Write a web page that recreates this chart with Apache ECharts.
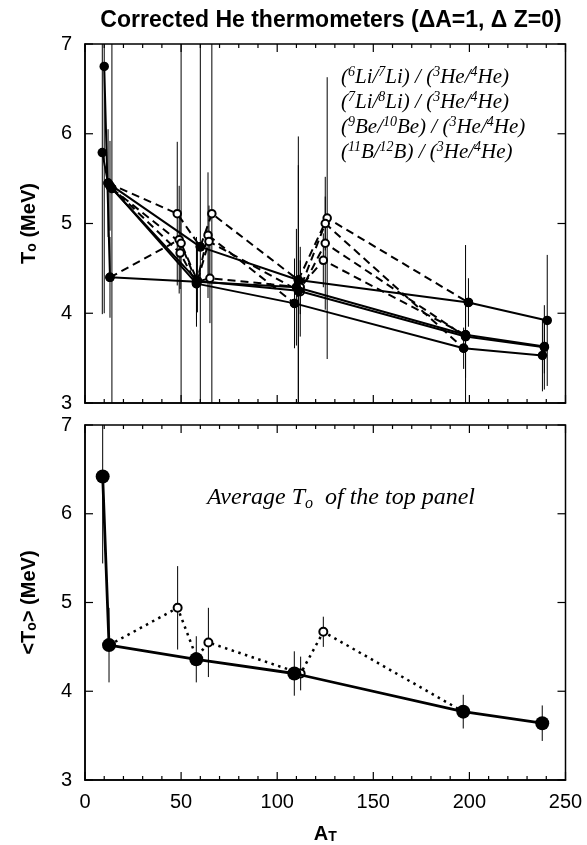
<!DOCTYPE html>
<html>
<head>
<meta charset="utf-8">
<script src="https://cdn.jsdelivr.net/npm/echarts@6/dist/echarts.min.js"></script>
<style>
  html, body { margin: 0; padding: 0; background: #fff; }
  #chart { width: 587px; height: 845px; }
</style>
</head>
<body>
<div id="chart"></div>
<script>
// [A_T, T0 (MeV), error]
// top panel: solid line = filled targets, dashed line = same thermometer incl. open targets
const th1Solid = [[10, 6.75, 2.75], [13, 4.40, 0.45], [58, 4.35, 0.5], [110, 4.29, 0.65], [198, 3.76, 1.0], [239, 3.63, 0.3]]
const th1Dash = [[13, 4.40, 0], [49, 4.82, 0.6], [58, 4.35, 0], [65, 4.39, 0.5], [112, 4.29, 0.3], [124, 4.59, 0.3], [198, 3.76, 0]]
const th2Solid = [[9, 5.79, 1.8], [12, 5.45, 0.6], [60, 4.74, 3.0], [111, 4.37, 1.6], [199.5, 4.12, 0.27], [240.5, 3.92, 0.73]]
const th2Dash = [[12, 5.45, 0], [48, 5.11, 0.8], [60, 4.74, 0], [66, 5.11, 2.5], [111, 4.37, 0], [126, 5.06, 1.57], [199.5, 4.12, 0]]
const th3Solid = [[13, 5.42, 0.5], [58, 4.33, 0.4], [109, 4.11, 0.5], [197, 3.61, 0.23], [238, 3.53, 0.4]]
const th3Dash = [[13, 5.42, 0], [49.5, 4.67, 0.4], [58, 4.33, 0], [64, 4.87, 0.7], [109, 4.11, 0], [125, 5.00, 0.3], [197, 3.61, 0]]
const th4Solid = [[14, 5.39, 2.6], [58.5, 4.36, 0.35], [111, 4.25, 1.4], [198, 3.74, 0.46], [239, 3.62, 0.47]]
const th4Dash = [[14, 5.39, 0], [50, 4.78, 3.0], [58.5, 4.36, 0], [64.5, 4.80, 0.4], [112, 4.24, 0.5], [125, 4.78, 0.74], [198, 3.74, 0]]

// bottom panel: averages
const avgSolid = [[9.2, 6.42, 0.98], [12.5, 4.52, 0.42], [57.9, 4.36, 0.26], [108.9, 4.20, 0.25], [196.8, 3.77, 0.19], [237.9, 3.64, 0.2]]
const avgDotted = [[12.5, 4.52, 0], [48.2, 4.94, 0.47], [58, 4.38, 0], [64.2, 4.55, 0.39], [112.2, 4.20, 0.19], [124, 4.67, 0.17], [196.8, 3.77, 0]]

const legendLines = [
  '({s|6}Li/{s|7}Li) / ({s|3}He/{s|4}He)',
  '({s|7}Li/{s|8}Li) / ({s|3}He/{s|4}He)',
  '({s|9}Be/{s|10}Be) / ({s|3}He/{s|4}He)',
  '({s|11}B/{s|12}B) / ({s|3}He/{s|4}He)'
]
const xRange = [0, 250]
const yRange = [3, 7]
const xTickVals = [0, 10, 20, 30, 40, 50, 60, 70, 80, 90, 100, 110, 120, 130, 140, 150, 160, 170, 180, 190, 200, 210, 220, 230, 240, 250]
const yTickVals = [3, 4, 5, 6, 7]

const SANS = 'Liberation Sans'
const SERIF = 'Liberation Serif'

const chartInstance = echarts.init(document.getElementById('chart'), null, { renderer: 'canvas' })

const nameRich = {
  a: { fontSize: 20, fontWeight: 'bold', fontFamily: SANS, color: '#000' },
  b: { fontSize: 14, fontWeight: 'bold', fontFamily: SANS, color: '#000', verticalAlign: 'bottom', lineHeight: 16 }
}

function xAxisDef (grid, showLabel) {
  return {
    type: 'value',
    gridIndex: grid,
    min: xRange[0],
    max: xRange[1],
    interval: 50,
    axisLine: { show: true, onZero: false, lineStyle: { color: '#000', width: 1.5 } },
    axisTick: { show: false },
    splitLine: { show: false },
    axisLabel: { show: showLabel, color: '#000', fontSize: 20, fontFamily: SANS, margin: 12 }
  }
}

function yAxisDef (grid, name) {
  return {
    type: 'value',
    gridIndex: grid,
    min: yRange[0],
    max: yRange[1],
    interval: 1,
    axisLine: { show: true, onZero: false, lineStyle: { color: '#000', width: 1.5 } },
    axisTick: { show: false },
    splitLine: { show: false },
    axisLabel: { color: '#000', fontSize: 20, fontFamily: SANS, margin: 13 },
    name: name,
    nameLocation: 'middle',
    nameRotate: 90,
    nameGap: 46,
    nameTextStyle: { color: '#000', rich: nameRich }
  }
}

// vertical error bars, clipped to the panel
function errorBars (data, idx) {
  return {
    type: 'custom',
    xAxisIndex: idx,
    yAxisIndex: idx,
    silent: true,
    z: 1,
    data: data.filter(d => d[2] > 0),
    renderItem: (params, api) => {
      const x = api.value(0)
      const y = api.value(1)
      const e = api.value(2)
      const top = api.coord([x, y + e])
      const bot = api.coord([x, y - e])
      const cs = params.coordSys
      return {
        type: 'line',
        shape: { x1: top[0], y1: Math.max(top[1], cs.y), x2: top[0], y2: Math.min(bot[1], cs.y + cs.height) },
        style: { stroke: '#000', lineWidth: 1 }
      }
    }
  }
}

function lineSeries (data, idx, opt) {
  const filled = opt.symbol === 'circle'
  return {
    type: 'line',
    xAxisIndex: idx,
    yAxisIndex: idx,
    data: data.map(d => [d[0], d[1]]),
    symbol: opt.symbol,
    symbolSize: opt.size,
    showAllSymbol: true,
    z: opt.z,
    itemStyle: { color: '#000', borderColor: '#000', borderWidth: filled ? 0 : 1.3 },
    lineStyle: { color: '#000', width: opt.width, type: opt.dash },
    emphasis: { disabled: true }
  }
}

const topSolid = [th1Solid, th2Solid, th3Solid, th4Solid]
const topDash = [th1Dash, th2Dash, th3Dash, th4Dash]

const series = []
topSolid.concat(topDash).forEach(d => series.push(errorBars(d, 0)))
series.push(errorBars(avgSolid, 1))
series.push(errorBars(avgDotted, 1))
topDash.forEach(d => series.push(lineSeries(d, 0, { symbol: 'emptyCircle', size: 7.5, width: 2, dash: [8, 5], z: 2 })))
topSolid.forEach(d => series.push(lineSeries(d, 0, { symbol: 'circle', size: 9.5, width: 2, dash: 'solid', z: 3 })))
series.push(lineSeries(avgDotted, 1, { symbol: 'emptyCircle', size: 8, width: 2.5, dash: [2.5, 4.5], z: 2 }))
series.push(lineSeries(avgSolid, 1, { symbol: 'circle', size: 14, width: 2.8, dash: 'solid', z: 3 }))

const baseGraphic = [
  {
    type: 'text',
    x: 331,
    y: 21,
    style: {
      text: 'Corrected He thermometers (\u0394A=1, \u0394 Z=0)',
      fontFamily: SANS,
      fontSize: 23,
      fontWeight: 'bold',
      fill: '#000',
      align: 'center',
      verticalAlign: 'middle'
    }
  },
  {
    type: 'text',
    x: 341,
    y: 65,
    style: {
      text: legendLines.join('\n'),
      fontFamily: SERIF,
      fontStyle: 'italic',
      fontSize: 21,
      lineHeight: 25,
      fill: '#000',
      rich: {
        s: { fontFamily: SERIF, fontStyle: 'italic', fontSize: 14, verticalAlign: 'top', lineHeight: 16, fill: '#000' }
      }
    }
  },
  {
    type: 'text',
    x: 207,
    y: 484,
    style: {
      text: 'Average T{sub|o}  of the top panel',
      fontFamily: SERIF,
      fontStyle: 'italic',
      fontSize: 24,
      lineHeight: 28,
      fill: '#000',
      rich: {
        sub: { fontFamily: SERIF, fontStyle: 'italic', fontSize: 16, verticalAlign: 'bottom', lineHeight: 18, fill: '#000' }
      }
    }
  }
]

const option = {
  animation: false,
  backgroundColor: '#fff',
  grid: [
    { left: 85, top: 44, width: 480.5, height: 359 },
    { left: 85, top: 425, width: 480.5, height: 358 }
  ],
  xAxis: [
    xAxisDef(0, false),
    Object.assign(xAxisDef(1, true), {
      name: '{a|A}{b|T}',
      nameLocation: 'middle',
      nameGap: 44,
      nameTextStyle: { rich: nameRich }
    })
  ],
  yAxis: [
    yAxisDef(0, '{a|T}{b|o}{a| (MeV)}'),
    yAxisDef(1, '{a|<T}{b|o}{a|> (MeV)}')
  ],
  graphic: baseGraphic,
  series: series
}

chartInstance.setOption(option)

// frame and inward ticks on all four sides, placed through the axes' own scales
function panelMarks (idx) {
  const px = v => chartInstance.convertToPixel({ xAxisIndex: idx }, v)
  const py = v => chartInstance.convertToPixel({ yAxisIndex: idx }, v)
  const left = px(xRange[0])
  const right = px(xRange[1])
  const top = py(yRange[1])
  const bottom = py(yRange[0])
  const marks = [{
    type: 'rect',
    z: 100,
    silent: true,
    shape: { x: left, y: top, width: right - left, height: bottom - top },
    style: { fill: 'none', stroke: '#000', lineWidth: 1.5 }
  }]
  const bar = (x, y, w, h) => ({ type: 'rect', z: 100, silent: true, shape: { x: x, y: y, width: w, height: h }, style: { fill: '#000' } })
  xTickVals.forEach(v => {
    const x = px(v)
    const len = v % 50 === 0 ? 8 : 4
    marks.push(bar(x - 0.6, bottom - len, 1.2, len))
    marks.push(bar(x - 0.6, top, 1.2, len))
  })
  yTickVals.forEach(v => {
    const y = py(v)
    marks.push(bar(left, y - 0.6, 8, 1.2))
    marks.push(bar(right - 8, y - 0.6, 8, 1.2))
  })
  return marks
}

chartInstance.setOption({ graphic: baseGraphic.concat(panelMarks(0), panelMarks(1)) })
</script>
</body>
</html>
